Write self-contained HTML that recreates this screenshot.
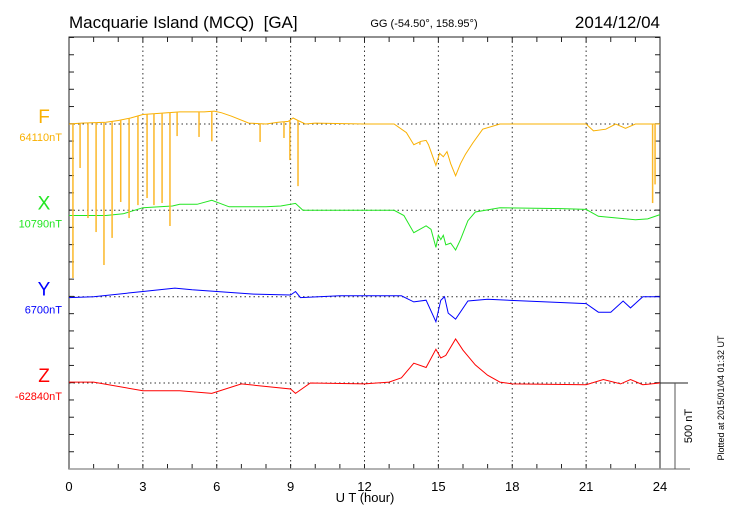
<!DOCTYPE html>
<html><head><meta charset="utf-8"><style>
html,body{margin:0;padding:0;background:#fff;}
svg{display:block;font-family:"Liberation Sans",sans-serif;}
</style></head><body>
<svg id="chart" width="730" height="520" viewBox="0 0 730 520" xmlns="http://www.w3.org/2000/svg">
<text x="69" y="28" font-size="17">Macquarie Island (MCQ)&#160; [GA]</text>
<text x="424" y="27" font-size="11" text-anchor="middle">GG (-54.50°, 158.95°)</text>
<text x="660" y="28" font-size="17" text-anchor="end">2014/12/04</text>
<g id="grid"></g>
<g id="axes"></g>
<g id="series"></g>
<text x="365" y="502" font-size="13" text-anchor="middle">U T (hour)</text>
<text transform="translate(692,426) rotate(-90)" font-size="11" text-anchor="middle">500 nT</text>
<text transform="translate(724,398) rotate(-90)" font-size="9" text-anchor="middle">Plotted at 2015/01/04 01:32 UT</text>
</svg>
<script>
const xTicks = [0,3,6,9,12,15,18,21,24];
const seriesNames = ["F","X","Y","Z"];
const seriesColors = ["#f9b000","#22e622","#0000ff","#ff0000"];
const baseLabels = ["64110nT","10790nT","6700nT","-62840nT"];
const fData = [[0,0],[0.5,5],[1.5,10],[2,20],[2.5,35],[3,55],[3.5,60],[4.5,70],[5.5,70],[5.9,75],[6.2,65],[6.6,45],[7.3,5],[8,0],[8.5,10],[8.9,15],[9.1,35],[9.3,20],[9.6,0],[10,5],[12,0],[13.2,0],[13.7,-50],[14.0,-120],[14.3,-100],[14.5,-95],[14.6,-120],[14.9,-240],[15.05,-170],[15.2,-190],[15.35,-160],[15.5,-230],[15.7,-300],[15.9,-230],[16.1,-175],[16.4,-110],[16.8,-30],[17.5,0],[21,0],[21.3,-40],[21.8,-30],[22.2,0],[22.6,-25],[23,0],[23.5,0],[24,0]];
const fSpikes = [[0.16,-892],[0.45,-255],[0.77,-545],[1.1,-626],[1.42,-817],[1.75,-660],[2.1,-452],[2.44,-545],[2.8,-470],[3.17,-429],[3.45,-470],[3.78,-458],[4.1,-591],[4.39,-70],[5.28,-75],[5.8,-100],[7.76,-104],[8.73,-81],[8.97,-209],[9.3,-360],[14.25,-120],[23.7,-458],[23.8,-350]];
const xData = [[0,-30],[1.5,-30],[2.2,-20],[3,15],[4.2,25],[4.5,35],[5.2,35],[5.8,58],[6.5,20],[8,20],[8.6,25],[9.2,40],[9.5,0],[13.2,0],[13.6,-30],[14,-130],[14.5,-90],[14.7,-110],[14.9,-215],[15.0,-145],[15.1,-170],[15.2,-145],[15.3,-200],[15.5,-190],[15.7,-230],[15.9,-170],[16.2,-60],[16.5,-10],[17.5,15],[20,10],[21,5],[21.5,-35],[23,-55],[23.5,-50],[24,-25]];
const yData = [[0,-5],[1,0],[3,30],[4.3,50],[5,40],[6,30],[7.5,15],[9,10],[9.2,30],[9.4,-5],[11,5],[13.5,5],[14,-30],[14.5,-20],[14.9,-145],[15.1,-20],[15.25,0],[15.4,-95],[15.7,-130],[16.2,-25],[17,-15],[21,-40],[21.5,-90],[22,-90],[22.5,-25],[22.8,-65],[23.3,0],[24,0]];
const zData = [[0,5],[1,5],[3,-45],[4.5,-45],[5.8,-60],[7,-5],[9,-35],[9.2,-60],[9.8,0],[12,-5],[13,5],[13.5,30],[14,115],[14.5,90],[14.9,195],[15.1,145],[15.3,160],[15.7,255],[16,190],[16.5,105],[17,45],[17.5,5],[18,-5],[21,-10],[21.7,20],[22.4,-5],[22.8,20],[23.3,-10],[24,0]];
const allData = [fData,xData,yData,zData];

const NS="http://www.w3.org/2000/svg";
const L=69,R=660,T=37,B=469;
const bases=[124,210.3,296.7,383];
const pxPerNT=86.3/500;
function xs(h){return L+h*(R-L)/24;}
function ys(i,v){return bases[i]-v*pxPerNT;}
function mk(tag,attrs,parent){const e=document.createElementNS(NS,tag);for(const k in attrs)e.setAttribute(k,attrs[k]);parent.appendChild(e);return e;}
const grid=document.getElementById('grid'),axes=document.getElementById('axes'),ser=document.getElementById('series'),svg=document.getElementById('chart');

xTicks.forEach(t=>{
  if(t>0&&t<24){const g=mk('line',{x1:xs(t),x2:xs(t),y1:T,y2:B,stroke:'#333','stroke-width':1,'stroke-dasharray':'1.5,3'},grid);
  
  }
  const tx=mk('text',{x:xs(t),y:491,'font-size':13,'text-anchor':'middle'},axes);
  
  
  tx.textContent=t;
});
bases.forEach((b,i)=>{
  const g=mk('line',{x1:L,x2:R,y1:b,y2:b,stroke:'#333','stroke-width':1,'stroke-dasharray':'1.5,3'},grid);
  
  
});
const fr=mk('rect',{x:L,y:T,width:R-L,height:B-T,fill:'none',stroke:'#222','stroke-width':1},axes);


for(let h=1;h<24;h++){
  mk('line',{x1:xs(h),x2:xs(h),y1:T,y2:T+5,stroke:'#222'},axes);
  mk('line',{x1:xs(h),x2:xs(h),y1:B,y2:B-5,stroke:'#222'},axes);
}
for(let y=B;y>T;y-=pxPerNT*100){
  mk('line',{x1:L,x2:L+5,y1:y,y2:y,stroke:'#222'},axes);
  mk('line',{x1:R,x2:R-5,y1:y,y2:y,stroke:'#222'},axes);
}
const bl=mk('line',{x1:L,x2:690,y1:B,y2:B,stroke:'#999','stroke-width':1.5},axes);


const sb1=mk('line',{x1:R,x2:688,y1:383,y2:383,stroke:'#222'},axes);


const sb2=mk('line',{x1:675,x2:675,y1:383,y2:B,stroke:'#555'},axes);



allData.forEach((d,i)=>{
  const c=seriesColors[i];
  const nm=mk('text',{x:44,y:bases[i]-1,'font-size':19,fill:c,'text-anchor':'middle'},svg);
  
  
  nm.textContent=seriesNames[i];
  const bv=mk('text',{x:62,y:bases[i]+17,'font-size':11,fill:c,'text-anchor':'end'},svg);
  
  
  bv.textContent=baseLabels[i];
  const p=mk('path',{d:d.map((pt,j)=>(j?'L':'M')+xs(pt[0]).toFixed(1)+','+ys(i,pt[1]).toFixed(1)).join(''),fill:'none',stroke:c,'stroke-width':1},ser);
  
  
});
function interp(d,h){for(let j=1;j<d.length;j++){if(h<=d[j][0]){const a=d[j-1],b=d[j];return a[1]+(b[1]-a[1])*(h-a[0])/(b[0]-a[0]);}}return d[d.length-1][1];}
fSpikes.forEach(s=>{
  const x=xs(s[0]);
  const l=mk('line',{x1:x,x2:x,y1:ys(0,interp(fData,s[0])),y2:ys(0,s[1]),stroke:'#fbb82a','stroke-width':1.5},ser);
  
  
});
</script>
</body></html>
